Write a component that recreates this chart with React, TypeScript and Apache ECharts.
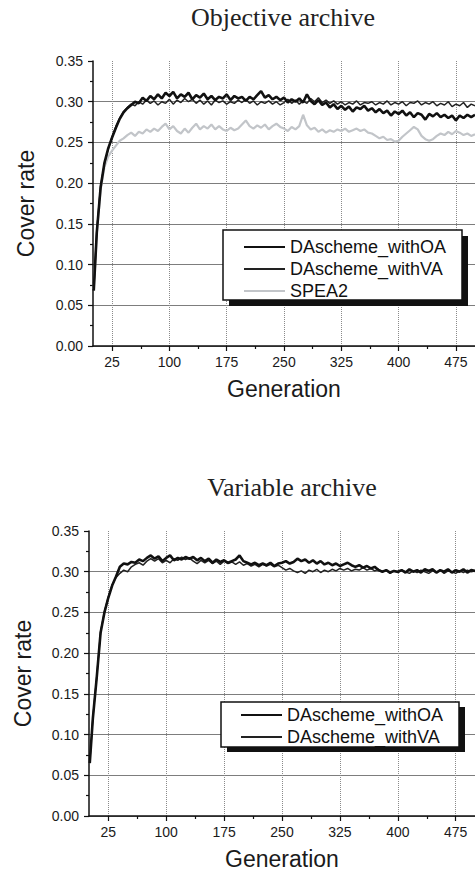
import React, { useEffect, useRef } from "react";
import * as echarts from "echarts";

const generations = [
  1, 5, 10, 15, 20, 25, 30, 35, 40, 45,
  50, 55, 60, 65, 70, 75, 80, 85, 90, 95,
  100, 105, 110, 115, 120, 125, 130, 135, 140, 145,
  150, 155, 160, 165, 170, 175, 180, 185, 190, 195,
  200, 205, 210, 215, 220, 225, 230, 235, 240, 245,
  250, 255, 260, 265, 270, 275, 280, 285, 290, 295,
  300, 305, 310, 315, 320, 325, 330, 335, 340, 345,
  350, 355, 360, 365, 370, 375, 380, 385, 390, 395,
  400, 405, 410, 415, 420, 425, 430, 435, 440, 445,
  450, 455, 460, 465, 470, 475, 480, 485, 490, 495,
  500,
];

const objOA = [
  0.068, 0.140, 0.195, 0.225, 0.243, 0.256, 0.268, 0.279, 0.287, 0.292,
  0.296, 0.300, 0.298, 0.305, 0.301, 0.307, 0.303, 0.309, 0.304, 0.311,
  0.307, 0.312, 0.304, 0.309, 0.306, 0.311, 0.303, 0.308, 0.305, 0.310,
  0.303, 0.307, 0.302, 0.306, 0.304, 0.309, 0.302, 0.307, 0.304, 0.306,
  0.301, 0.306, 0.303, 0.308, 0.313, 0.305, 0.308, 0.303, 0.306, 0.302,
  0.305, 0.299, 0.303, 0.300, 0.304, 0.299, 0.309, 0.301, 0.297, 0.302,
  0.296, 0.299, 0.293, 0.297, 0.291, 0.295, 0.290, 0.294, 0.288, 0.293,
  0.291, 0.295, 0.289, 0.292, 0.287, 0.291, 0.286, 0.289, 0.283, 0.288,
  0.285, 0.289, 0.283, 0.287, 0.281, 0.286, 0.284, 0.278, 0.285, 0.282,
  0.286, 0.281, 0.284, 0.280, 0.283, 0.277, 0.283, 0.280, 0.284, 0.281,
  0.284,
];

const objVA = [
  0.070, 0.142, 0.197, 0.224, 0.242, 0.257, 0.270, 0.280, 0.288, 0.293,
  0.297, 0.295, 0.300, 0.297, 0.302, 0.298, 0.301, 0.296, 0.300, 0.298,
  0.303, 0.297, 0.302, 0.299, 0.304, 0.300, 0.303, 0.298, 0.302, 0.297,
  0.301, 0.296, 0.302, 0.299, 0.301, 0.297, 0.300, 0.298, 0.302, 0.299,
  0.303, 0.298, 0.301, 0.296, 0.300, 0.298, 0.301, 0.297, 0.300, 0.296,
  0.299, 0.303, 0.298, 0.302, 0.297, 0.301, 0.298, 0.304, 0.300, 0.305,
  0.299, 0.302, 0.298, 0.301, 0.297, 0.300, 0.296, 0.299, 0.297, 0.301,
  0.296, 0.299, 0.298, 0.300, 0.296, 0.299, 0.297, 0.301, 0.296, 0.299,
  0.297, 0.300, 0.295, 0.299, 0.298, 0.301, 0.296, 0.299, 0.297, 0.300,
  0.295, 0.298, 0.296, 0.300, 0.294, 0.297, 0.295, 0.299, 0.293, 0.297,
  0.295,
];

const objSPEA2 = [
  0.070, 0.138, 0.192, 0.220, 0.233, 0.240, 0.246, 0.252, 0.255, 0.259,
  0.262, 0.258, 0.263, 0.261, 0.266, 0.263, 0.267, 0.264, 0.269, 0.273,
  0.266, 0.270, 0.264, 0.261, 0.267, 0.262, 0.268, 0.273, 0.266, 0.270,
  0.267, 0.272, 0.266, 0.270, 0.266, 0.264, 0.268, 0.265, 0.267, 0.272,
  0.277, 0.270, 0.267, 0.271, 0.268, 0.272, 0.266, 0.270, 0.273, 0.269,
  0.267, 0.264, 0.269, 0.266, 0.270, 0.284, 0.271, 0.266, 0.268, 0.263,
  0.266, 0.262, 0.265, 0.263, 0.266, 0.264, 0.267, 0.263, 0.265, 0.267,
  0.264, 0.266, 0.262, 0.261, 0.258, 0.255, 0.257, 0.253, 0.254, 0.251,
  0.252, 0.257, 0.261, 0.265, 0.269, 0.266, 0.258, 0.254, 0.252, 0.254,
  0.258, 0.261, 0.259, 0.263, 0.260, 0.264, 0.262, 0.259, 0.261, 0.258,
  0.260,
];

const varOA = [
  0.065, 0.120, 0.170, 0.225, 0.250, 0.268, 0.283, 0.294, 0.306, 0.310,
  0.309, 0.312, 0.311, 0.315, 0.313, 0.317, 0.320, 0.316, 0.319, 0.313,
  0.317, 0.320, 0.314, 0.317, 0.315, 0.318, 0.316, 0.318, 0.314, 0.317,
  0.313, 0.316, 0.311, 0.315, 0.312, 0.314, 0.311, 0.313, 0.315, 0.320,
  0.313, 0.311, 0.309, 0.311, 0.308, 0.310, 0.308, 0.311, 0.307, 0.310,
  0.311, 0.313, 0.310, 0.312, 0.316, 0.313, 0.315, 0.311, 0.314, 0.310,
  0.313, 0.309, 0.311, 0.308, 0.310, 0.307, 0.309, 0.311, 0.308, 0.306,
  0.308, 0.305, 0.307, 0.304, 0.306, 0.302, 0.300, 0.302, 0.299, 0.301,
  0.300, 0.302, 0.299, 0.303, 0.300, 0.302, 0.299, 0.303, 0.301, 0.303,
  0.299, 0.302, 0.300, 0.303, 0.299, 0.302, 0.300, 0.303, 0.299, 0.302,
  0.301,
];

const varVA = [
  0.066, 0.121, 0.171, 0.226, 0.251, 0.269, 0.284, 0.293, 0.298, 0.302,
  0.300, 0.306, 0.309, 0.311, 0.308, 0.313, 0.316, 0.313, 0.316, 0.311,
  0.314, 0.311, 0.316, 0.314, 0.318, 0.315, 0.317, 0.313, 0.310, 0.314,
  0.311, 0.314, 0.310, 0.313, 0.309, 0.313, 0.310, 0.312, 0.309, 0.312,
  0.308, 0.310, 0.307, 0.309, 0.306, 0.309, 0.307, 0.309, 0.306, 0.308,
  0.305, 0.302, 0.304, 0.301, 0.299, 0.301, 0.298, 0.302, 0.300, 0.303,
  0.299, 0.302, 0.300, 0.303, 0.301, 0.304, 0.302, 0.304, 0.301, 0.303,
  0.302, 0.305, 0.302, 0.304, 0.301, 0.303, 0.300, 0.302, 0.298, 0.301,
  0.299, 0.302, 0.300, 0.298, 0.301, 0.299, 0.302, 0.300, 0.298, 0.301,
  0.299, 0.302, 0.298, 0.301, 0.300, 0.298, 0.301, 0.299, 0.302, 0.300,
  0.301,
];

const xTickValues = [25, 100, 175, 250, 325, 400, 475];
const xMinorTickValues = [62.5, 137.5, 212.5, 287.5, 362.5, 437.5];
const titles = ["Objective archive", "Variable archive"];
const legendTop = ["DAscheme_withOA", "DAscheme_withVA", "SPEA2"];
const legendBottom = ["DAscheme_withOA", "DAscheme_withVA"];

const SANS = '"Liberation Sans", Arial, sans-serif';
const SERIF = '"Liberation Serif", "Times New Roman", serif';

const pairs = (ys: number[]) => generations.map((g, i) => [g, ys[i]]);

export default function App() {
  const ref = useRef<HTMLDivElement>(null);

  useEffect(() => {
    if (!ref.current) return;
    const chart = echarts.init(ref.current, undefined, { renderer: "svg" });

    const grids = [
      { left: 93, top: 61, width: 388.5, height: 285 },
      { left: 89, top: 531, width: 387.8, height: 285 },
    ];

    const mainX = (gi: number) => ({
      type: "value",
      gridIndex: gi,
      position: "bottom",
      min: 0,
      max: 500,
      name: "Generation",
      nameLocation: "middle",
      nameGap: 31,
      nameTextStyle: { fontFamily: SANS, fontSize: 23, color: "#1a1a1a" },
      axisLine: { show: true, onZero: false, lineStyle: { color: "#111", width: 1.5 } },
      axisTick: { show: true, customValues: xTickValues, length: 5, lineStyle: { color: "#111", width: 1.2 } },
      axisLabel: {
        show: true,
        customValues: xTickValues,
        margin: 9,
        fontFamily: SANS,
        fontSize: 14,
        color: "#1a1a1a",
      },
      splitLine: { show: true, lineStyle: { color: "#8a8a8a", type: "dotted", width: 1 } },
    });

    const minorX = (gi: number) => ({
      type: "value",
      gridIndex: gi,
      position: "bottom",
      offset: 0,
      min: 0,
      max: 500,
      axisLine: { show: false },
      axisTick: { show: true, customValues: xMinorTickValues, length: 3, lineStyle: { color: "#111", width: 1.2 } },
      axisLabel: { show: false },
      splitLine: { show: false },
    });

    const mainY = (gi: number, gap: number) => ({
      type: "value",
      gridIndex: gi,
      min: 0,
      max: 0.35,
      interval: 0.05,
      name: "Cover rate",
      nameLocation: "middle",
      nameGap: gap,
      nameTextStyle: { fontFamily: SANS, fontSize: 23, color: "#1a1a1a" },
      axisLine: { show: true, lineStyle: { color: "#111", width: 1.5 } },
      axisTick: { show: true, length: 5, lineStyle: { color: "#111", width: 1.2 } },
      minorTick: { show: true, splitNumber: 2, length: 3, lineStyle: { color: "#111", width: 1.2 } },
      axisLabel: {
        margin: 10,
        fontFamily: SANS,
        fontSize: 14,
        color: "#1a1a1a",
        formatter: (v: number) => v.toFixed(2),
      },
      splitLine: { show: true, showMaxLine: false, lineStyle: { color: "#7d7d7d", width: 1.2 } },
    });

    const lineSeries = (name: string, data: number[], axisIdx: number, yIdx: number, color: string, width: number, z: number) => ({
      name,
      type: "line",
      xAxisIndex: axisIdx,
      yAxisIndex: yIdx,
      data: pairs(data),
      symbol: "none",
      showSymbol: false,
      lineStyle: { color, width },
      itemStyle: { color },
      z,
    });

    const legendBase = {
      orient: "vertical",
      padding: 0,
      itemWidth: 41,
      itemHeight: 12,
      itemGap: 4,
      selectedMode: false,
      z: 20,
      itemStyle: { opacity: 0, borderWidth: 0 },
      textStyle: { fontFamily: SANS, fontSize: 18, color: "#111" },
    };

    const option: any = {
      animation: false,
      backgroundColor: "#ffffff",
      grid: grids,
      xAxis: [mainX(0), minorX(0), mainX(1), minorX(1)],
      yAxis: [mainY(0, 56), mainY(1, 55)],
      legend: [
        { ...legendBase, left: 243, top: 238, data: legendTop },
        { ...legendBase, left: 240, top: 706, data: legendBottom },
      ],
      graphic: [
        {
          type: "text",
          x: 283,
          y: 17,
          z: 10,
          style: { text: titles[0], fontFamily: SERIF, fontSize: 26, fill: "#222", align: "center", verticalAlign: "middle" },
        },
        {
          type: "text",
          x: 292,
          y: 487,
          z: 10,
          style: { text: titles[1], fontFamily: SERIF, fontSize: 26, fill: "#222", align: "center", verticalAlign: "middle" },
        },
        { type: "rect", z: 8, shape: { x: 229, y: 236, width: 239, height: 70 }, style: { fill: "#111" } },
        { type: "rect", z: 9, shape: { x: 223, y: 230, width: 239, height: 70 }, style: { fill: "#fff", stroke: "#111", lineWidth: 1.5 } },
        { type: "rect", z: 8, shape: { x: 227, y: 707, width: 238, height: 45 }, style: { fill: "#111" } },
        { type: "rect", z: 9, shape: { x: 221, y: 702, width: 238, height: 45 }, style: { fill: "#fff", stroke: "#111", lineWidth: 1.5 } },
      ],
      series: [
        lineSeries("SPEA2", objSPEA2, 0, 0, "#c2c5c9", 2.2, 2),
        lineSeries("DAscheme_withVA", objVA, 0, 0, "#222", 1.5, 3),
        lineSeries("DAscheme_withOA", objOA, 0, 0, "#111", 2.6, 4),
        lineSeries("DAscheme_withVA", varVA, 2, 1, "#222", 1.5, 3),
        lineSeries("DAscheme_withOA", varOA, 2, 1, "#111", 2.6, 4),
      ],
    };

    chart.setOption(option);
    return () => chart.dispose();
  }, []);

  return (
    <div
      ref={ref}
      style={{ position: "absolute", left: 0, top: 0, width: 475, height: 872, overflow: "hidden", background: "#fff" }}
    />
  );
}
